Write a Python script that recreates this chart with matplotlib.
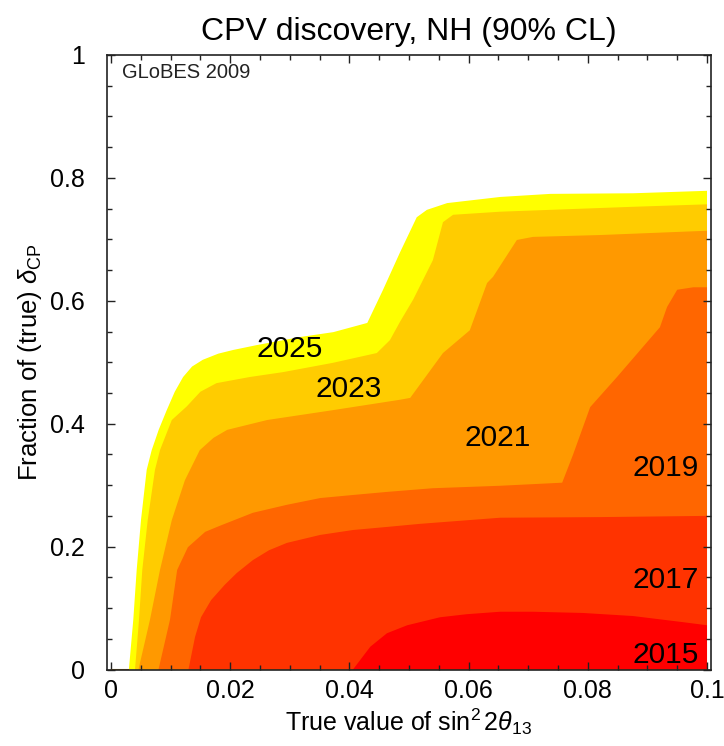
import numpy as np
import matplotlib
matplotlib.use("Agg")
import matplotlib.pyplot as plt
from matplotlib.ticker import MultipleLocator

plt.rcParams['font.family'] = ['Liberation Sans', 'DejaVu Sans']
plt.rcParams['mathtext.fontset'] = 'custom'
plt.rcParams['mathtext.rm'] = 'Liberation Sans'
plt.rcParams['mathtext.it'] = 'Liberation Sans:italic'

# discovery reach boundaries: (true sin^2 2theta13, fraction of delta_CP) per year
years = ['2025', '2023', '2021', '2019', '2017', '2015']
colors = ['#FFFF00', '#FFCC00', '#FF9900', '#FF6600', '#FF3300', '#FF0000']

s2025 = [0.0030, 0.00374, 0.00431, 0.00503, 0.00599, 0.00683, 0.0080, 0.00935, 0.0107,
         0.0121, 0.0136, 0.0154, 0.0180, 0.0205, 0.0245, 0.0317, 0.0373, 0.0430, 0.0456,
         0.0485, 0.0513, 0.0530, 0.0564, 0.0653, 0.0737, 0.0876, 0.1000]
f2025 = [0.000, 0.081, 0.162, 0.243, 0.325, 0.357, 0.390, 0.422, 0.452,
         0.476, 0.493, 0.504, 0.514, 0.520, 0.528, 0.541, 0.549, 0.564, 0.617,
         0.679, 0.736, 0.748, 0.759, 0.769, 0.774, 0.775, 0.779]

s2023 = [0.00403, 0.0047, 0.00525, 0.00616, 0.00738, 0.00822, 0.0102, 0.0127, 0.0150,
         0.0177, 0.0233, 0.0289, 0.0372, 0.0446, 0.0468, 0.0485, 0.0507, 0.0540, 0.0557,
         0.0574, 0.0653, 0.0765, 0.0876, 0.1000]
f2023 = [0.000, 0.081, 0.162, 0.243, 0.325, 0.357, 0.406, 0.428, 0.452,
         0.466, 0.476, 0.484, 0.499, 0.515, 0.536, 0.566, 0.602, 0.666, 0.728,
         0.740, 0.745, 0.749, 0.753, 0.757]

s2021 = [0.00461, 0.00654, 0.00822, 0.0102, 0.0124, 0.0149, 0.0172, 0.0195, 0.0262,
         0.0372, 0.0485, 0.0502, 0.0557, 0.0602, 0.0631, 0.0641, 0.0681, 0.0708, 0.0820,
         0.1000]
f2021 = [0.000, 0.081, 0.162, 0.243, 0.308, 0.357, 0.377, 0.390, 0.406,
         0.422, 0.439, 0.442, 0.515, 0.552, 0.629, 0.639, 0.699, 0.704, 0.707,
         0.714]

s2019 = [0.00797, 0.0099, 0.0111, 0.0129, 0.0158, 0.0183, 0.0238, 0.0295, 0.0351,
         0.0406, 0.0463, 0.0540, 0.0653, 0.0757, 0.0775, 0.0804, 0.0849, 0.0921, 0.0933,
         0.0950, 0.0977, 0.1000]
f2019 = [0.000, 0.081, 0.162, 0.199, 0.224, 0.234, 0.255, 0.268, 0.279,
         0.284, 0.289, 0.295, 0.299, 0.304, 0.349, 0.427, 0.476, 0.557, 0.590,
         0.618, 0.622, 0.622]

s2017 = [0.0130, 0.0141, 0.0151, 0.0168, 0.0191, 0.0211, 0.0238, 0.0265, 0.0295,
         0.0351, 0.0406, 0.0463, 0.0518, 0.0653, 0.0820, 0.1000]
f2017 = [0.000, 0.053, 0.085, 0.113, 0.138, 0.157, 0.178, 0.194, 0.206,
         0.219, 0.227, 0.232, 0.237, 0.247, 0.248, 0.250]

s2015 = [0.0406, 0.0435, 0.0463, 0.0497, 0.0552, 0.0597, 0.0653, 0.0708, 0.0792,
         0.0876, 0.0960, 0.1000]
f2015 = [0.000, 0.037, 0.059, 0.072, 0.085, 0.090, 0.094, 0.094, 0.092,
         0.087, 0.077, 0.072]

curves = [(s2025, f2025), (s2023, f2023), (s2021, f2021),
          (s2019, f2019), (s2017, f2017), (s2015, f2015)]

# label positions (x, y) for each year
label_x = [0.0300, 0.0399, 0.0648, 0.0930, 0.0930, 0.0930]
label_y = [0.521, 0.456, 0.377, 0.328, 0.146, 0.024]

fig = plt.figure(figsize=(7.24, 7.46), dpi=100)
ax = fig.add_axes([107 / 724, 76.5 / 746, 604 / 724, 614.5 / 746])

# outer regions first, inner ones drawn on top
for (s, f), c in zip(curves, colors):
    ax.fill(np.r_[s, 0.1], np.r_[f, 0.0], color=c, lw=0, zorder=1)

# zero-fraction line below the earliest threshold
ax.plot([0, s2025[0]], [0, 0], color='#b07a10', lw=1.5, zorder=2,
        solid_capstyle='butt')

for yr, lx, ly in zip(years, label_x, label_y):
    ax.text(lx, ly, yr, fontsize=21.5, ha='center', va='center', zorder=3)

ax.text(0.0018, 0.971, 'GLoBES 2009', fontsize=14.5, ha='left', va='center',
        color='#222222')

ax.set_xlim(-0.00067, 0.10067)
ax.set_ylim(0, 1)
ax.xaxis.set_major_locator(MultipleLocator(0.02))
ax.xaxis.set_minor_locator(MultipleLocator(0.005))
ax.yaxis.set_major_locator(MultipleLocator(0.2))
ax.yaxis.set_minor_locator(MultipleLocator(0.05))
ax.set_xticks([0, 0.02, 0.04, 0.06, 0.08, 0.1])
ax.set_xticklabels(['0', '0.02', '0.04', '0.06', '0.08', '0.1'])
ax.set_yticks([0, 0.2, 0.4, 0.6, 0.8, 1.0])
ax.set_yticklabels(['0', '0.2', '0.4', '0.6', '0.8', '1'])
ax.tick_params(which='both', direction='in', top=True, right=True,
               labelsize=18, width=1.0, color='#222222')
ax.tick_params(which='major', length=6)
ax.tick_params(axis='x', which='major', pad=7)
ax.tick_params(axis='y', which='major', pad=16)
ax.tick_params(which='minor', length=3.5)
for sp in ax.spines.values():
    sp.set_linewidth(1.2)
    sp.set_color('#222222')

ax.set_title('CPV discovery, NH (90% CL)', fontsize=23, pad=11)
ax.set_xlabel(r'True value of sin$^{2}\,2\theta_{13}$', fontsize=18, labelpad=2)
ax.set_ylabel(r'Fraction of (true) $\delta_{\rm CP}$', fontsize=18.5, labelpad=4)

fig.savefig('out.png', dpi=100)
